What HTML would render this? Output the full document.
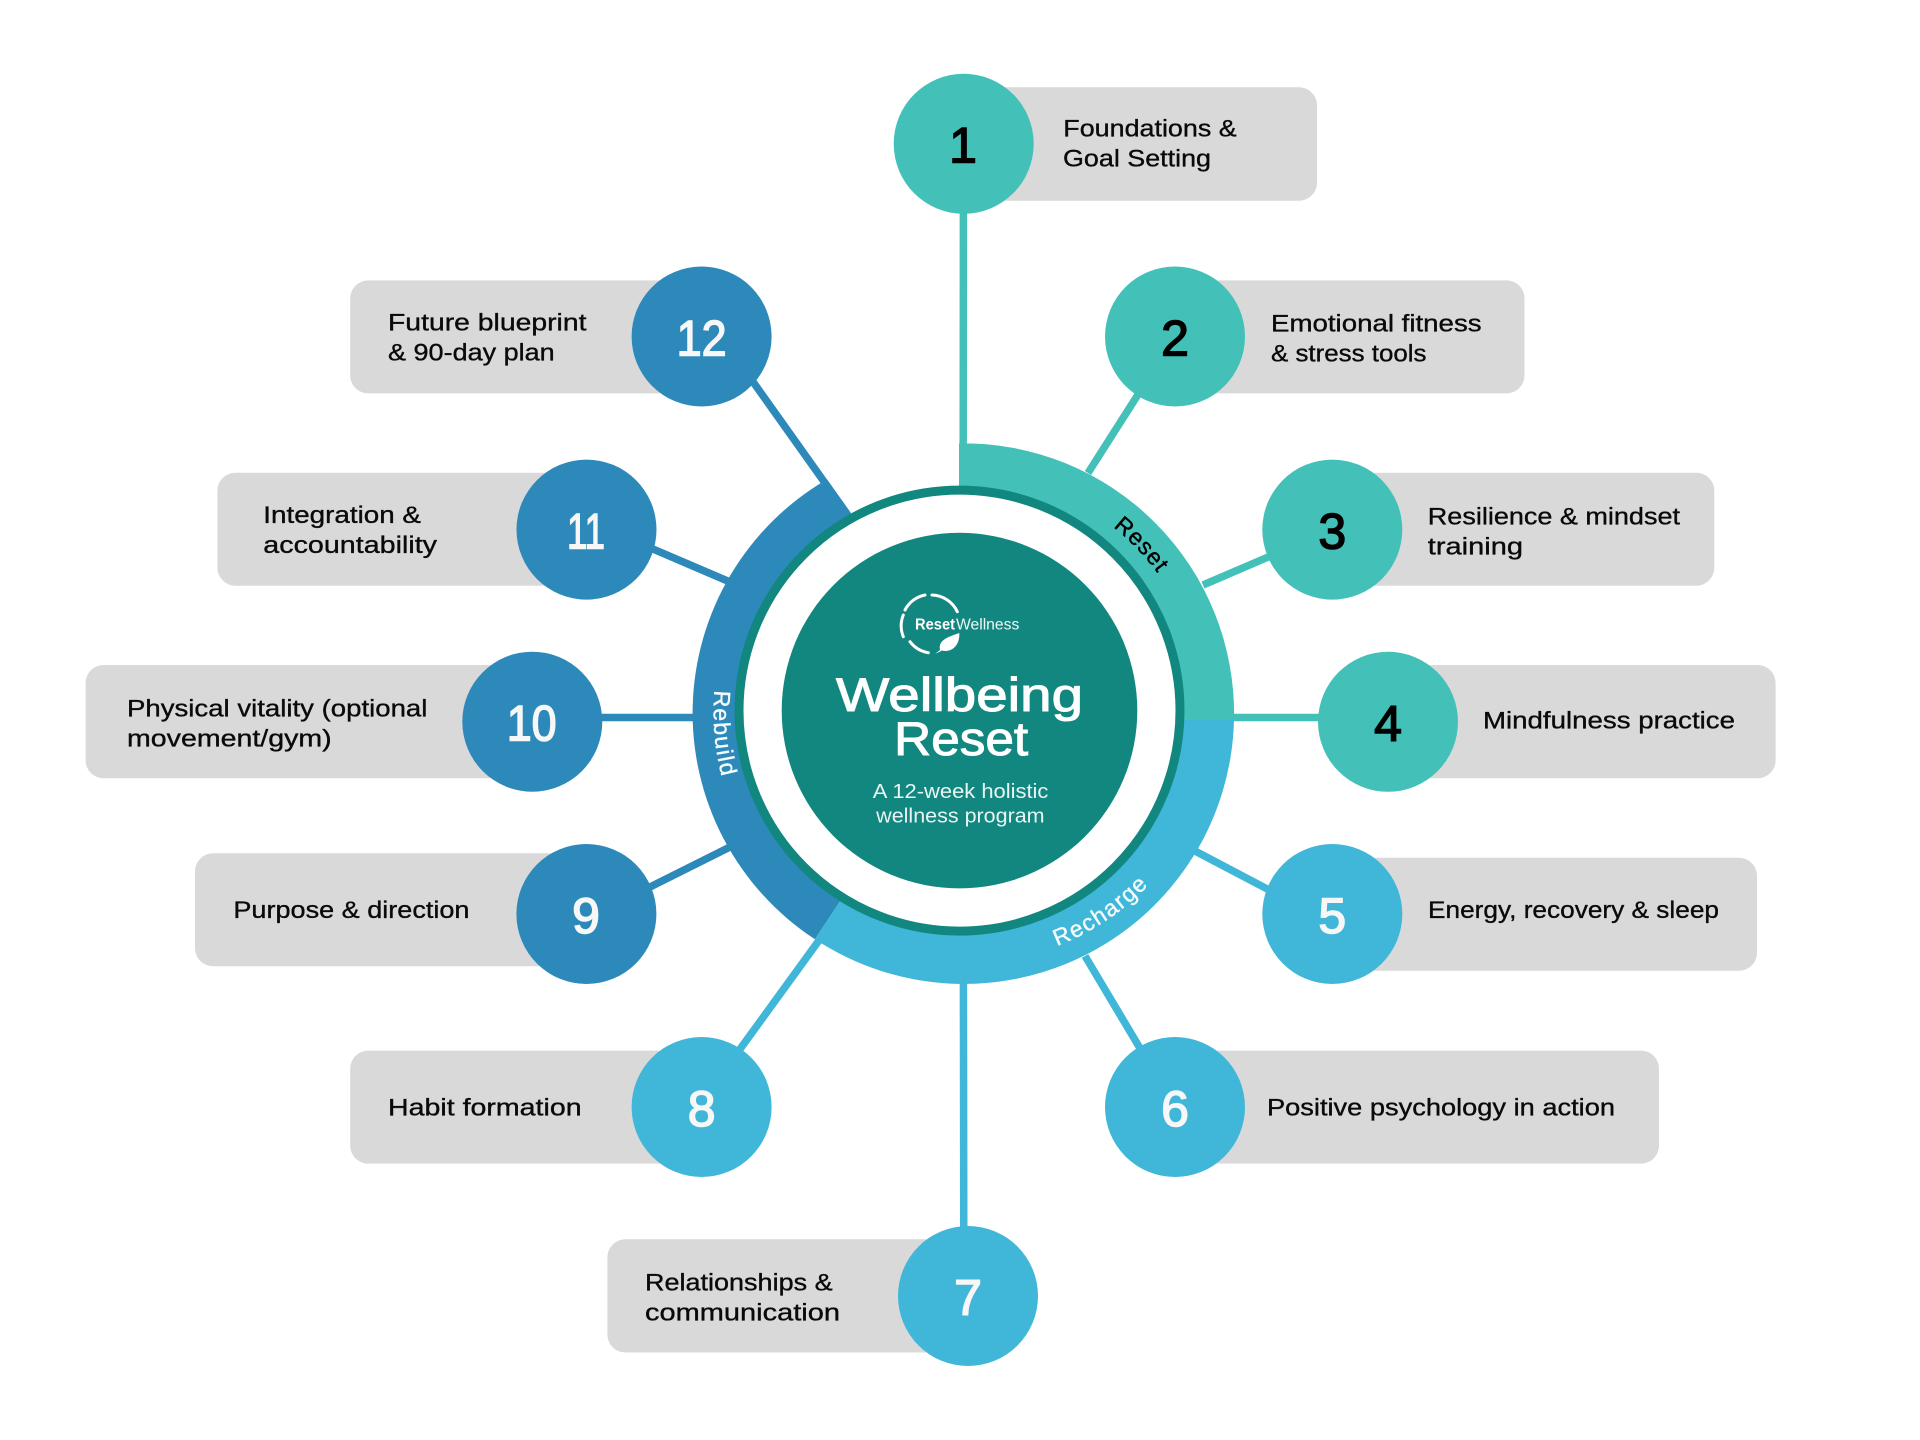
<!DOCTYPE html>
<html lang="en">
<head>
<meta charset="utf-8">
<title>Wellbeing Reset</title>
<style>
html,body{margin:0;padding:0;background:#fff;width:1920px;height:1440px;overflow:hidden}
svg{display:block}
text{font-family:"Liberation Sans",sans-serif}
.l{font-size:24.5px;fill:#0a0a0a;stroke:#0a0a0a;stroke-width:.35px}
.n{font-size:50px;font-weight:400;text-anchor:middle;stroke-width:1.5px}
.k{fill:#000;stroke:#000}
.w{fill:#f7f7f7;stroke:#f7f7f7}
</style>
</head>
<body>
<svg xmlns="http://www.w3.org/2000/svg" width="1920" height="1440" viewBox="0 0 1920 1440">
<rect width="1920" height="1440" fill="#fff"/>

<!-- pills -->
<g fill="#d9d9d9">
<rect x="960" y="87.3" width="357" height="113.4" rx="18"/>
<rect x="1170" y="280.4" width="354.5" height="113" rx="18"/>
<rect x="1330" y="472.7" width="384.3" height="113" rx="18"/>
<rect x="1385" y="665" width="390.6" height="113.3" rx="18"/>
<rect x="1330" y="857.8" width="427" height="113" rx="18"/>
<rect x="1170" y="1050.6" width="489" height="113" rx="18"/>
<rect x="607.4" y="1239.2" width="360" height="113.3" rx="18"/>
<rect x="350.2" y="1050.6" width="350" height="113" rx="18"/>
<rect x="195" y="853.3" width="390" height="113" rx="18"/>
<rect x="85.6" y="665" width="445" height="113.3" rx="18"/>
<rect x="217.4" y="472.7" width="368" height="113" rx="18"/>
<rect x="350.2" y="280.4" width="350" height="113" rx="18"/>
</g>

<!-- connectors -->
<g stroke-width="7.5" fill="none">
<g stroke="#43c1b9">
<line x1="963.4" y1="205" x2="963.2" y2="450"/>
<line x1="1175" y1="336.5" x2="1088" y2="473"/>
<line x1="1332" y1="529.6" x2="1203" y2="585"/>
<line x1="1225" y1="717.5" x2="1330" y2="717.5"/>
</g>
<g stroke="#40b7d9">
<line x1="1195" y1="851" x2="1332" y2="923"/>
<line x1="1085" y1="956" x2="1175" y2="1107"/>
<line x1="963.4" y1="975" x2="963.8" y2="1260"/>
<line x1="820" y1="939" x2="698" y2="1107"/>
</g>
<g stroke="#2d89ba">
<line x1="730" y1="847" x2="600" y2="912"/>
<line x1="600" y1="717.5" x2="700" y2="717.5"/>
<line x1="730" y1="582" x2="590" y2="522"/>
<line x1="740" y1="363.5" x2="847.6" y2="514.8"/>
</g>
</g>

<!-- ring wedges -->
<path d="M963.6 713.4 L815 939.3 A270.3 270.3 0 0 1 827 479.4 L850.6 512.6 Z" fill="#2d89ba"/>
<path d="M963.6 713.4 L1234 720 A270.3 270.3 0 0 1 815 939.3 Z" fill="#40b7d9"/>
<path d="M959 720 L959 443.4 A270.3 270.3 0 0 1 1234 720 Z" fill="#43c1b9"/>

<!-- center -->
<circle cx="959.5" cy="710.6" r="220.5" fill="#fff" stroke="#12877f" stroke-width="9"/>
<circle cx="959.5" cy="710.6" r="177.8" fill="#12877f"/>

<!-- logo -->
<g fill="none" stroke="#fff" stroke-width="3" stroke-linecap="round">
<path d="M905 610 A29 29 0 0 1 925 595"/>
<path d="M932 595 A29 29 0 0 1 957.3 611.7"/>
<path d="M903.3 615 A29 29 0 0 0 903.3 636.7"/>
<path d="M910 641.7 A29 29 0 0 0 928.3 652.7"/>
</g>
<path d="M940 650 C938 640 948 637 959.3 633 C960 645 952 653 942 650.5 L935 654 Z" fill="#fff"/>
<text x="915" y="629.3" font-size="15.5" font-weight="700" fill="#fff" textLength="40" lengthAdjust="spacingAndGlyphs">Reset</text>
<text x="956" y="629.3" font-size="15.5" fill="#eef7f6" textLength="63.3" lengthAdjust="spacingAndGlyphs">Wellness</text>

<text x="836" y="710.8" font-size="47" fill="#fff" stroke="#fff" stroke-width="1" textLength="247" lengthAdjust="spacingAndGlyphs">Wellbeing</text>
<text x="894.2" y="755.2" font-size="47" fill="#fff" stroke="#fff" stroke-width="1" textLength="134" lengthAdjust="spacingAndGlyphs">Reset</text>
<text x="872.8" y="798" font-size="20.5" fill="#e8f5f3" textLength="175.6" lengthAdjust="spacingAndGlyphs">A 12-week holistic</text>
<text x="876.2" y="822.6" font-size="20.5" fill="#e8f5f3" textLength="168.4" lengthAdjust="spacingAndGlyphs">wellness program</text>

<!-- arc labels -->
<defs>
<path id="pReset" d="M1113 527 A239 239 0 0 1 1170 592"/>
<path id="pRecharge" d="M1057 946 A252 252 0 0 0 1165 866"/>
<path id="pRebuild" d="M714.7 690.3 A250 250 0 0 0 728.7 798.9"/>
</defs>
<text font-size="23" fill="#000" stroke="#000" stroke-width=".4" letter-spacing="1"><textPath href="#pReset">Reset</textPath></text>
<text font-size="23" fill="#f4fbfd" stroke="#f4fbfd" stroke-width=".4" letter-spacing="1.5"><textPath href="#pRecharge">Recharge</textPath></text>
<text font-size="23" fill="#f4fbfd" stroke="#f4fbfd" stroke-width=".4" letter-spacing="1.5"><textPath href="#pRebuild">Rebuild</textPath></text>

<!-- node circles -->
<g fill="#43c1b9">
<circle cx="963.7" cy="143.8" r="70"/>
<circle cx="1175" cy="336.5" r="70"/>
<circle cx="1332.3" cy="529.6" r="70"/>
<circle cx="1388" cy="721.8" r="70"/>
</g>
<g fill="#40b7d9">
<circle cx="1332.3" cy="914" r="70"/>
<circle cx="1175" cy="1107" r="70"/>
<circle cx="968" cy="1296" r="70"/>
<circle cx="701.6" cy="1107" r="70"/>
</g>
<g fill="#2d89ba">
<circle cx="586.4" cy="914" r="70"/>
<circle cx="532.3" cy="721.7" r="70"/>
<circle cx="586.5" cy="529.6" r="70"/>
<circle cx="701.6" cy="336.5" r="70"/>
</g>

<!-- numbers -->
<text class="n k" x="963" y="162.7">1</text>
<text class="n k" x="1175" y="355.7">2</text>
<text class="n k" x="1332.3" y="548.6">3</text>
<text class="n k" x="1388" y="740.8">4</text>
<text class="n w" x="1332.3" y="933">5</text>
<text class="n w" x="1175" y="1126">6</text>
<text class="n w" x="968" y="1315">7</text>
<text class="n w" x="701.6" y="1126">8</text>
<text class="n w" x="586" y="933">9</text>
<text class="n w" x="531.7" y="740.7" textLength="50" lengthAdjust="spacingAndGlyphs">10</text>
<text class="n w" x="586" y="548.6" textLength="38" lengthAdjust="spacingAndGlyphs">11</text>
<text class="n w" x="701.6" y="355.7" textLength="50" lengthAdjust="spacingAndGlyphs">12</text>

<!-- labels -->
<g class="lbl">
<text class="l" x="1063.3" y="136.7" textLength="173.4" lengthAdjust="spacingAndGlyphs">Foundations &amp;</text>
<text class="l" x="1063" y="166.7" textLength="148" lengthAdjust="spacingAndGlyphs">Goal Setting</text>
<text class="l" x="1271" y="331.7" textLength="210.6" lengthAdjust="spacingAndGlyphs">Emotional fitness</text>
<text class="l" x="1271" y="361.7" textLength="155.5" lengthAdjust="spacingAndGlyphs">&amp; stress tools</text>
<text class="l" x="1427.8" y="524.5" textLength="252.2" lengthAdjust="spacingAndGlyphs">Resilience &amp; mindset</text>
<text class="l" x="1427.8" y="554.5" textLength="95.2" lengthAdjust="spacingAndGlyphs">training</text>
<text class="l" x="1483" y="728.6" textLength="252" lengthAdjust="spacingAndGlyphs">Mindfulness practice</text>
<text class="l" x="1428" y="918" textLength="291" lengthAdjust="spacingAndGlyphs">Energy, recovery &amp; sleep</text>
<text class="l" x="1267" y="1115.5" textLength="348" lengthAdjust="spacingAndGlyphs">Positive psychology in action</text>
<text class="l" x="645" y="1290.6" textLength="187.6" lengthAdjust="spacingAndGlyphs">Relationships &amp;</text>
<text class="l" x="645" y="1320.4" textLength="195" lengthAdjust="spacingAndGlyphs">communication</text>
<text class="l" x="388" y="1115.5" textLength="193.6" lengthAdjust="spacingAndGlyphs">Habit formation</text>
<text class="l" x="233.4" y="918" textLength="236.1" lengthAdjust="spacingAndGlyphs">Purpose &amp; direction</text>
<text class="l" x="127" y="716.7" textLength="300.4" lengthAdjust="spacingAndGlyphs">Physical vitality (optional</text>
<text class="l" x="127" y="746.7" textLength="204.7" lengthAdjust="spacingAndGlyphs">movement/gym)</text>
<text class="l" x="263.3" y="522.9" textLength="157.7" lengthAdjust="spacingAndGlyphs">Integration &amp;</text>
<text class="l" x="263.3" y="552.9" textLength="173.7" lengthAdjust="spacingAndGlyphs">accountability</text>
<text class="l" x="388" y="330.6" textLength="198.5" lengthAdjust="spacingAndGlyphs">Future blueprint</text>
<text class="l" x="388" y="360.6" textLength="166.7" lengthAdjust="spacingAndGlyphs">&amp; 90-day plan</text>
</g>
</svg>
</body>
</html>
